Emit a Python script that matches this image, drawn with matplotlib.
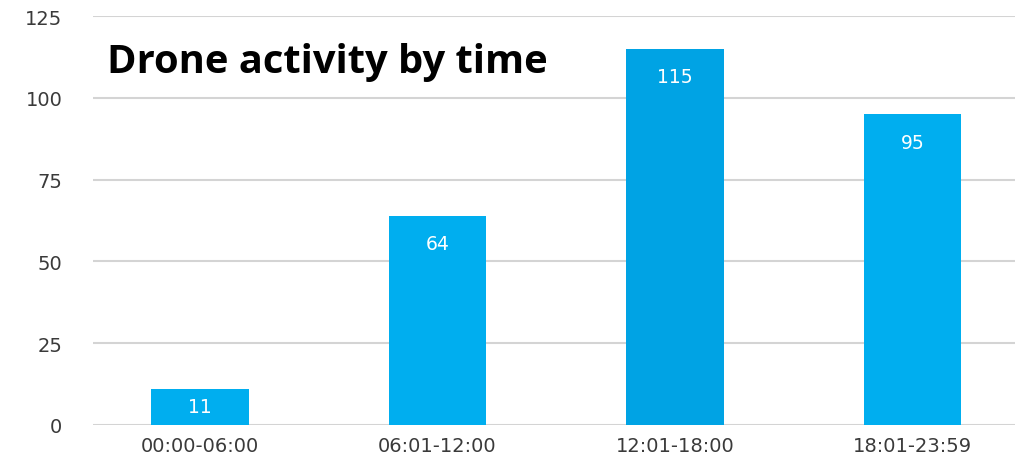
import matplotlib
matplotlib.use("Agg")
import matplotlib.pyplot as plt

# Drone activity counts per time window
time_slots = ["00:00-06:00", "06:01-12:00", "12:01-18:00", "18:01-23:59"]
activity = [11, 64, 115, 95]
bar_colors = ["#00AEEF", "#00AEEF", "#00A3E4", "#00AEEF"]

fig = plt.figure(figsize=(10.23, 4.56), dpi=100)
ax = fig.add_axes([0.0909, 0.0658, 0.9011, 0.8969])

x = range(len(time_slots))
bars = ax.bar(x, activity, width=0.41, color=bar_colors, zorder=3)
ax.set_ylim(0, 125)
ax.set_xlim(-0.45, 3.43)

# Value labels inside the top of each bar (centred when the bar is short)
px_per_unit = ax.transData.transform((0, 1))[1] - ax.transData.transform((0, 0))[1]
for rect, val in zip(bars, activity):
    offset = min(28, val * px_per_unit / 2)
    ax.annotate(str(val), (rect.get_x() + rect.get_width() / 2, rect.get_height()),
                xytext=(0, -offset), textcoords="offset pixels", ha="center", va="center",
                color="white", fontsize=13.5, family="DejaVu Sans", zorder=4)

ax.set_yticks([0, 25, 50, 75, 100, 125])
ax.set_xticks(list(x))
ax.set_xticklabels(time_slots)
ax.yaxis.grid(True, color="#d4d4d4", linewidth=1.5, zorder=0)
ax.tick_params(length=0, labelsize=14, labelcolor="#3a3a3a")
ax.tick_params(axis="x", pad=8)
ax.tick_params(axis="y", pad=22)
for side in ["top", "right", "left", "bottom"]:
    ax.spines[side].set_visible(False)

fig.text(0.105, 0.862, "Drone activity by time", fontsize=28.7, fontweight="bold",
         family="Open Sans", color="black", va="center")

fig.savefig("out.png", dpi=100)
